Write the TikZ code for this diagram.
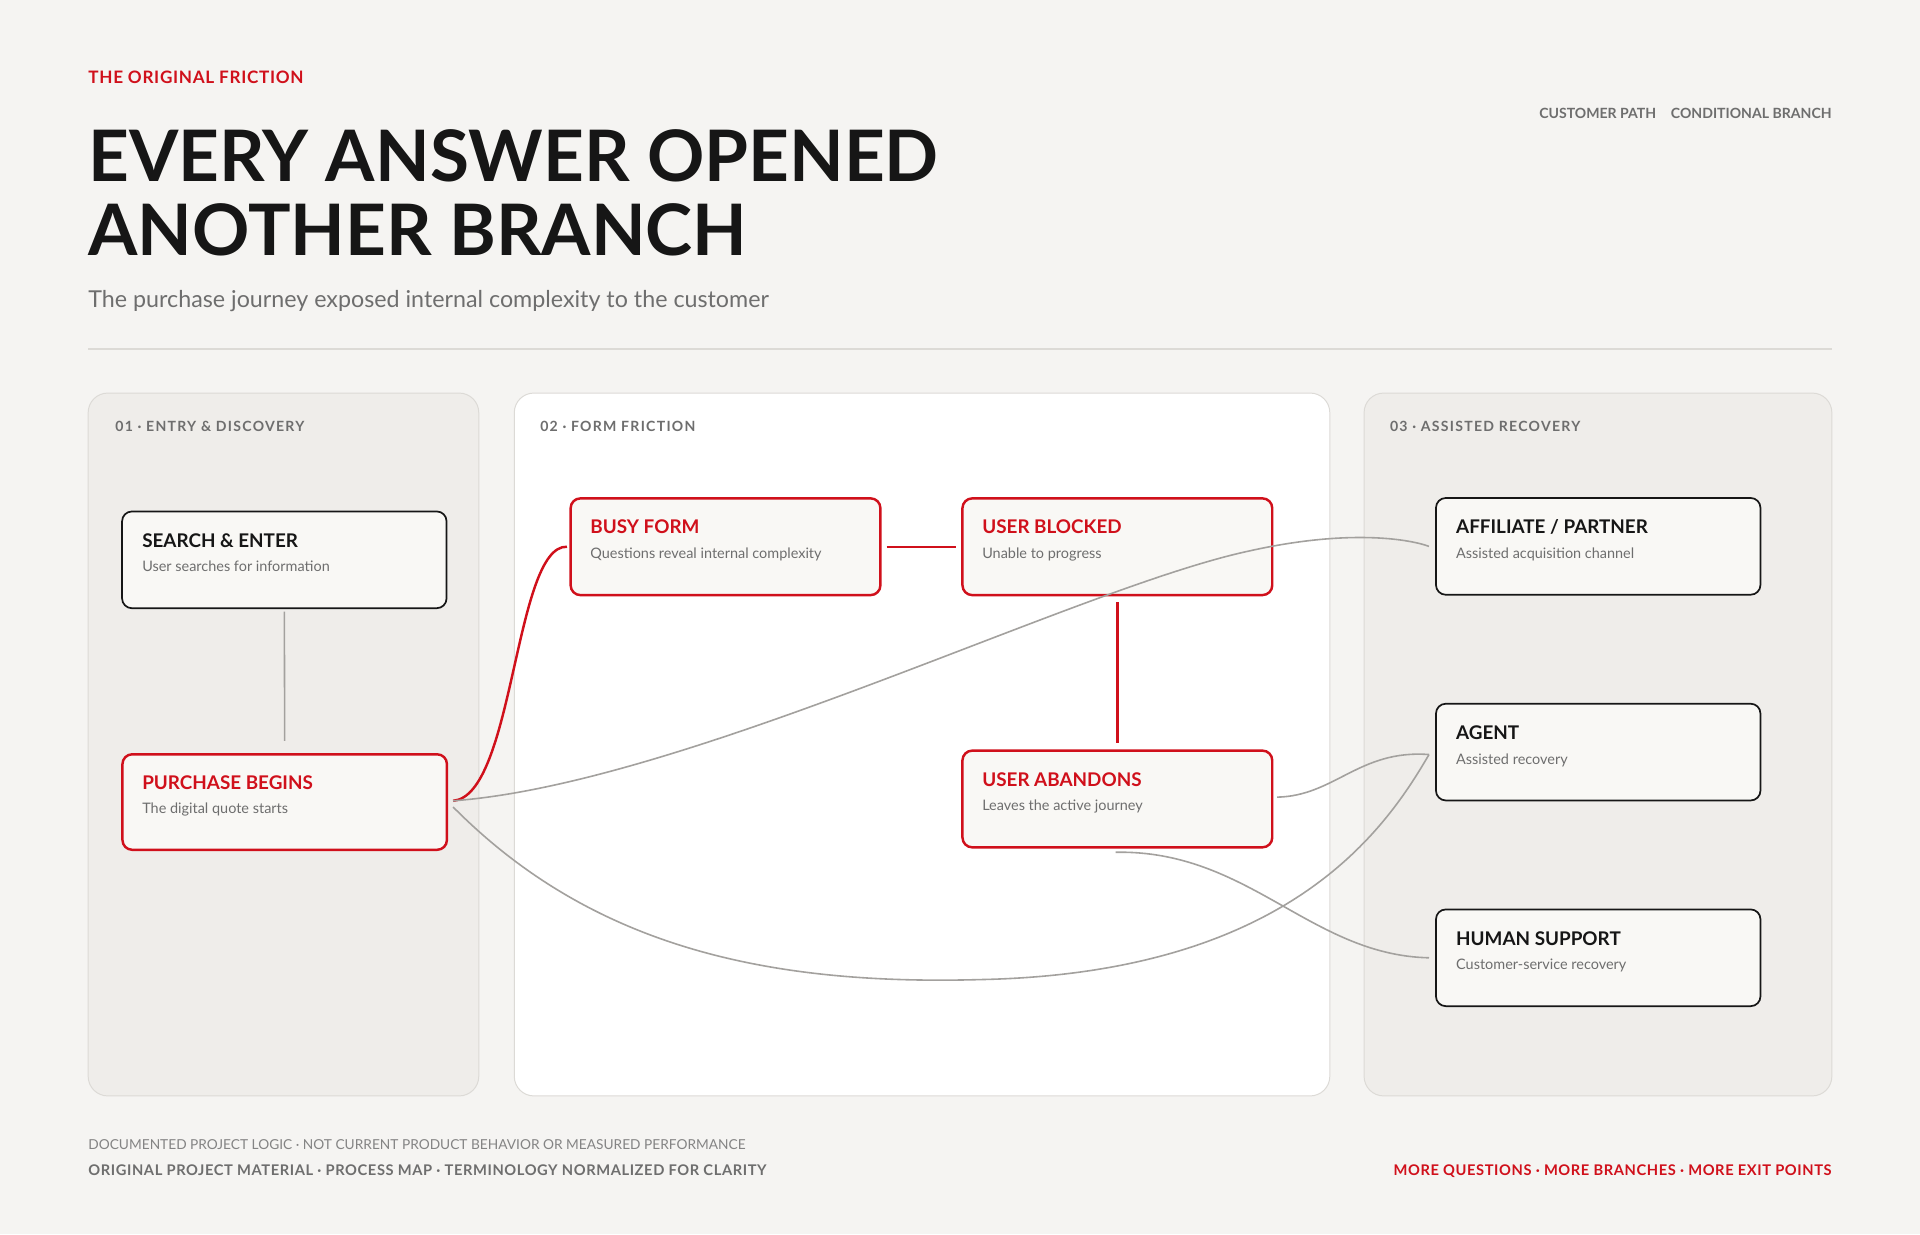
\documentclass[tikz,border=0pt]{standalone}
\usepackage{fontspec}
\setmainfont{Lato}
\definecolor{bg}{HTML}{F5F4F2}
\definecolor{pan}{HTML}{EFEDEA}
\definecolor{pbord}{HTML}{DCDAD6}
\definecolor{red}{HTML}{D0101B}
\definecolor{ink}{HTML}{161616}
\definecolor{gr}{HTML}{6E6E6E}
\definecolor{ln}{HTML}{A3A19E}
\definecolor{nfill}{HTML}{F9F8F5}
\tikzset{
 panel/.style={draw=pbord,line width=0.8pt,rounded corners=16pt},
 box/.style={draw=ink,line width=1.4pt,rounded corners=8pt,fill=nfill},
 rbox/.style={draw=red,line width=2pt,rounded corners=8pt,fill=nfill},
 ttl/.style={anchor=base west,inner sep=0,font=\fontsize{15.4}{18}\selectfont\bfseries},
 sub/.style={anchor=base west,inner sep=0,font=\fontsize{11.8}{13}\selectfont,text=gr},
 plab/.style={anchor=base west,inner sep=0,font=\fontsize{11.5}{13}\selectfont\bfseries\addfontfeature{LetterSpace=9},text=gr},
 gline/.style={draw=ln,line width=1.3pt},
 rline/.style={draw=red,line width=2pt},
}
\begin{document}
\begin{tikzpicture}[x=1pt,y=-1pt]
\useasboundingbox (0,0) rectangle (1568,1008);
\fill[bg] (0,0) rectangle (1568,1008);
\node[anchor=base west,inner sep=0,text=red,font=\fontsize{14}{16}\selectfont\bfseries\addfontfeature{LetterSpace=4}] (kick) at (72,68) {THE ORIGINAL FRICTION};
\node[anchor=base west,inner sep=0,text=ink,font=\fontsize{58}{61}\selectfont\bfseries,align=left] (title) at (72,209) {EVERY ANSWER OPENED\\ANOTHER BRANCH};
\node[anchor=base west,inner sep=0,text=gr,font=\fontsize{19}{22}\selectfont] (subt) at (72,251) {The purchase journey exposed internal complexity to the customer};
\node[anchor=base east,inner sep=0,text=gr,font=\fontsize{11.5}{13}\selectfont\bfseries] (leg) at (1496,97) {CUSTOMER PATH\hspace{12pt}CONDITIONAL BRANCH};
\draw[pbord,line width=1.2pt] (72,285) -- (1496,285);
% panels
\draw[panel,fill=pan] (72,321) rectangle (391,895);
\draw[panel,fill=white] (420,321) rectangle (1086,895);
\draw[panel,fill=pan] (1114,321) rectangle (1496,895);
\node[plab] (p1) at (94,352) {01 · ENTRY \& DISCOVERY};
\node[plab] (p2) at (441,352) {02 · FORM FRICTION};
\node[plab] (p3) at (1135,352) {03 · ASSISTED RECOVERY};
% nodes
\newcommand{\mybox}[8]{%
 \node[#2,minimum width=#5-#3,minimum height=#6-#4,anchor=north west,inner sep=0] (#1) at (#3,#4) {};
 \node[ttl,text=#8] (#1t) at (#3+17,#4+30) {#7};}
\mybox{search}{box}{99}{417}{364}{496}{SEARCH \& ENTER}{ink}
\node[sub] at (116,467) {User searches for information};
\mybox{purch}{rbox}{99}{615}{364}{693}{PURCHASE BEGINS}{red}
\node[sub] at (116,664) {The digital quote starts};
\mybox{busy}{rbox}{465}{406}{718}{485}{BUSY FORM}{red}
\node[sub] at (482,456) {Questions reveal internal complexity};
\mybox{blocked}{rbox}{785}{406}{1038}{485}{USER BLOCKED}{red}
\node[sub] at (802,456) {Unable to progress};
\mybox{aband}{rbox}{785}{612}{1038}{691}{USER ABANDONS}{red}
\node[sub] at (802,662) {Leaves the active journey};
\mybox{aff}{box}{1172}{406}{1437}{485}{AFFILIATE / PARTNER}{ink}
\node[sub] at (1189,456) {Assisted acquisition channel};
\mybox{agent}{box}{1172}{574}{1437}{653}{AGENT}{ink}
\node[sub] at (1189,624) {Assisted recovery};
\mybox{human}{box}{1172}{742}{1437}{821}{HUMAN SUPPORT}{ink}
\node[sub] at (1189,792) {Customer-service recovery};
% connectors
\coordinate (pr) at (370,654);
\draw[gline] ([yshift=-2pt]search.south) -- ([yshift=10pt]purch.north);
\draw[rline] (pr) .. controls (420,650) and (420,445) .. ([xshift=-2pt]busy.west);
\draw[rline] ([xshift=4pt]busy.east) -- ([xshift=-4pt]blocked.west);
\draw[rline] ([yshift=-5pt]blocked.south) -- ([yshift=5pt]aband.north);
\draw[gline] (pr) .. controls (560,640) and (880,480) .. (1020,450) .. controls (1100,432) and (1150,440) .. ([xshift=-5pt]aff.west);
\draw[gline] (370,659) .. controls (480,770) and (620,805) .. (800,800) .. controls (1050,795) and (1130,680) .. ([xshift=-5pt,yshift=-2pt]agent.west);
\draw[gline] (1043,651) .. controls (1090,650) and (1110,612) .. ([xshift=-5pt,yshift=-2pt]agent.west);
\draw[gline] (911,696) .. controls (1020,694) and (1070,780) .. ([xshift=-5pt]human.west);
% footer
\node[anchor=base west,inner sep=0,text=gr!85,font=\fontsize{11.2}{13}\selectfont] (f1) at (72,939) {DOCUMENTED PROJECT LOGIC · NOT CURRENT PRODUCT BEHAVIOR OR MEASURED PERFORMANCE};
\node[anchor=base west,inner sep=0,text=gr,font=\fontsize{12}{13}\selectfont\bfseries\addfontfeature{LetterSpace=4}] (f2) at (72,960) {ORIGINAL PROJECT MATERIAL · PROCESS MAP · TERMINOLOGY NORMALIZED FOR CLARITY};
\node[anchor=base east,inner sep=0,text=red,font=\fontsize{12}{13}\selectfont\bfseries\addfontfeature{LetterSpace=4}] (f3) at (1496,960) {MORE QUESTIONS · MORE BRANCHES · MORE EXIT POINTS};
\end{tikzpicture}
\end{document}
